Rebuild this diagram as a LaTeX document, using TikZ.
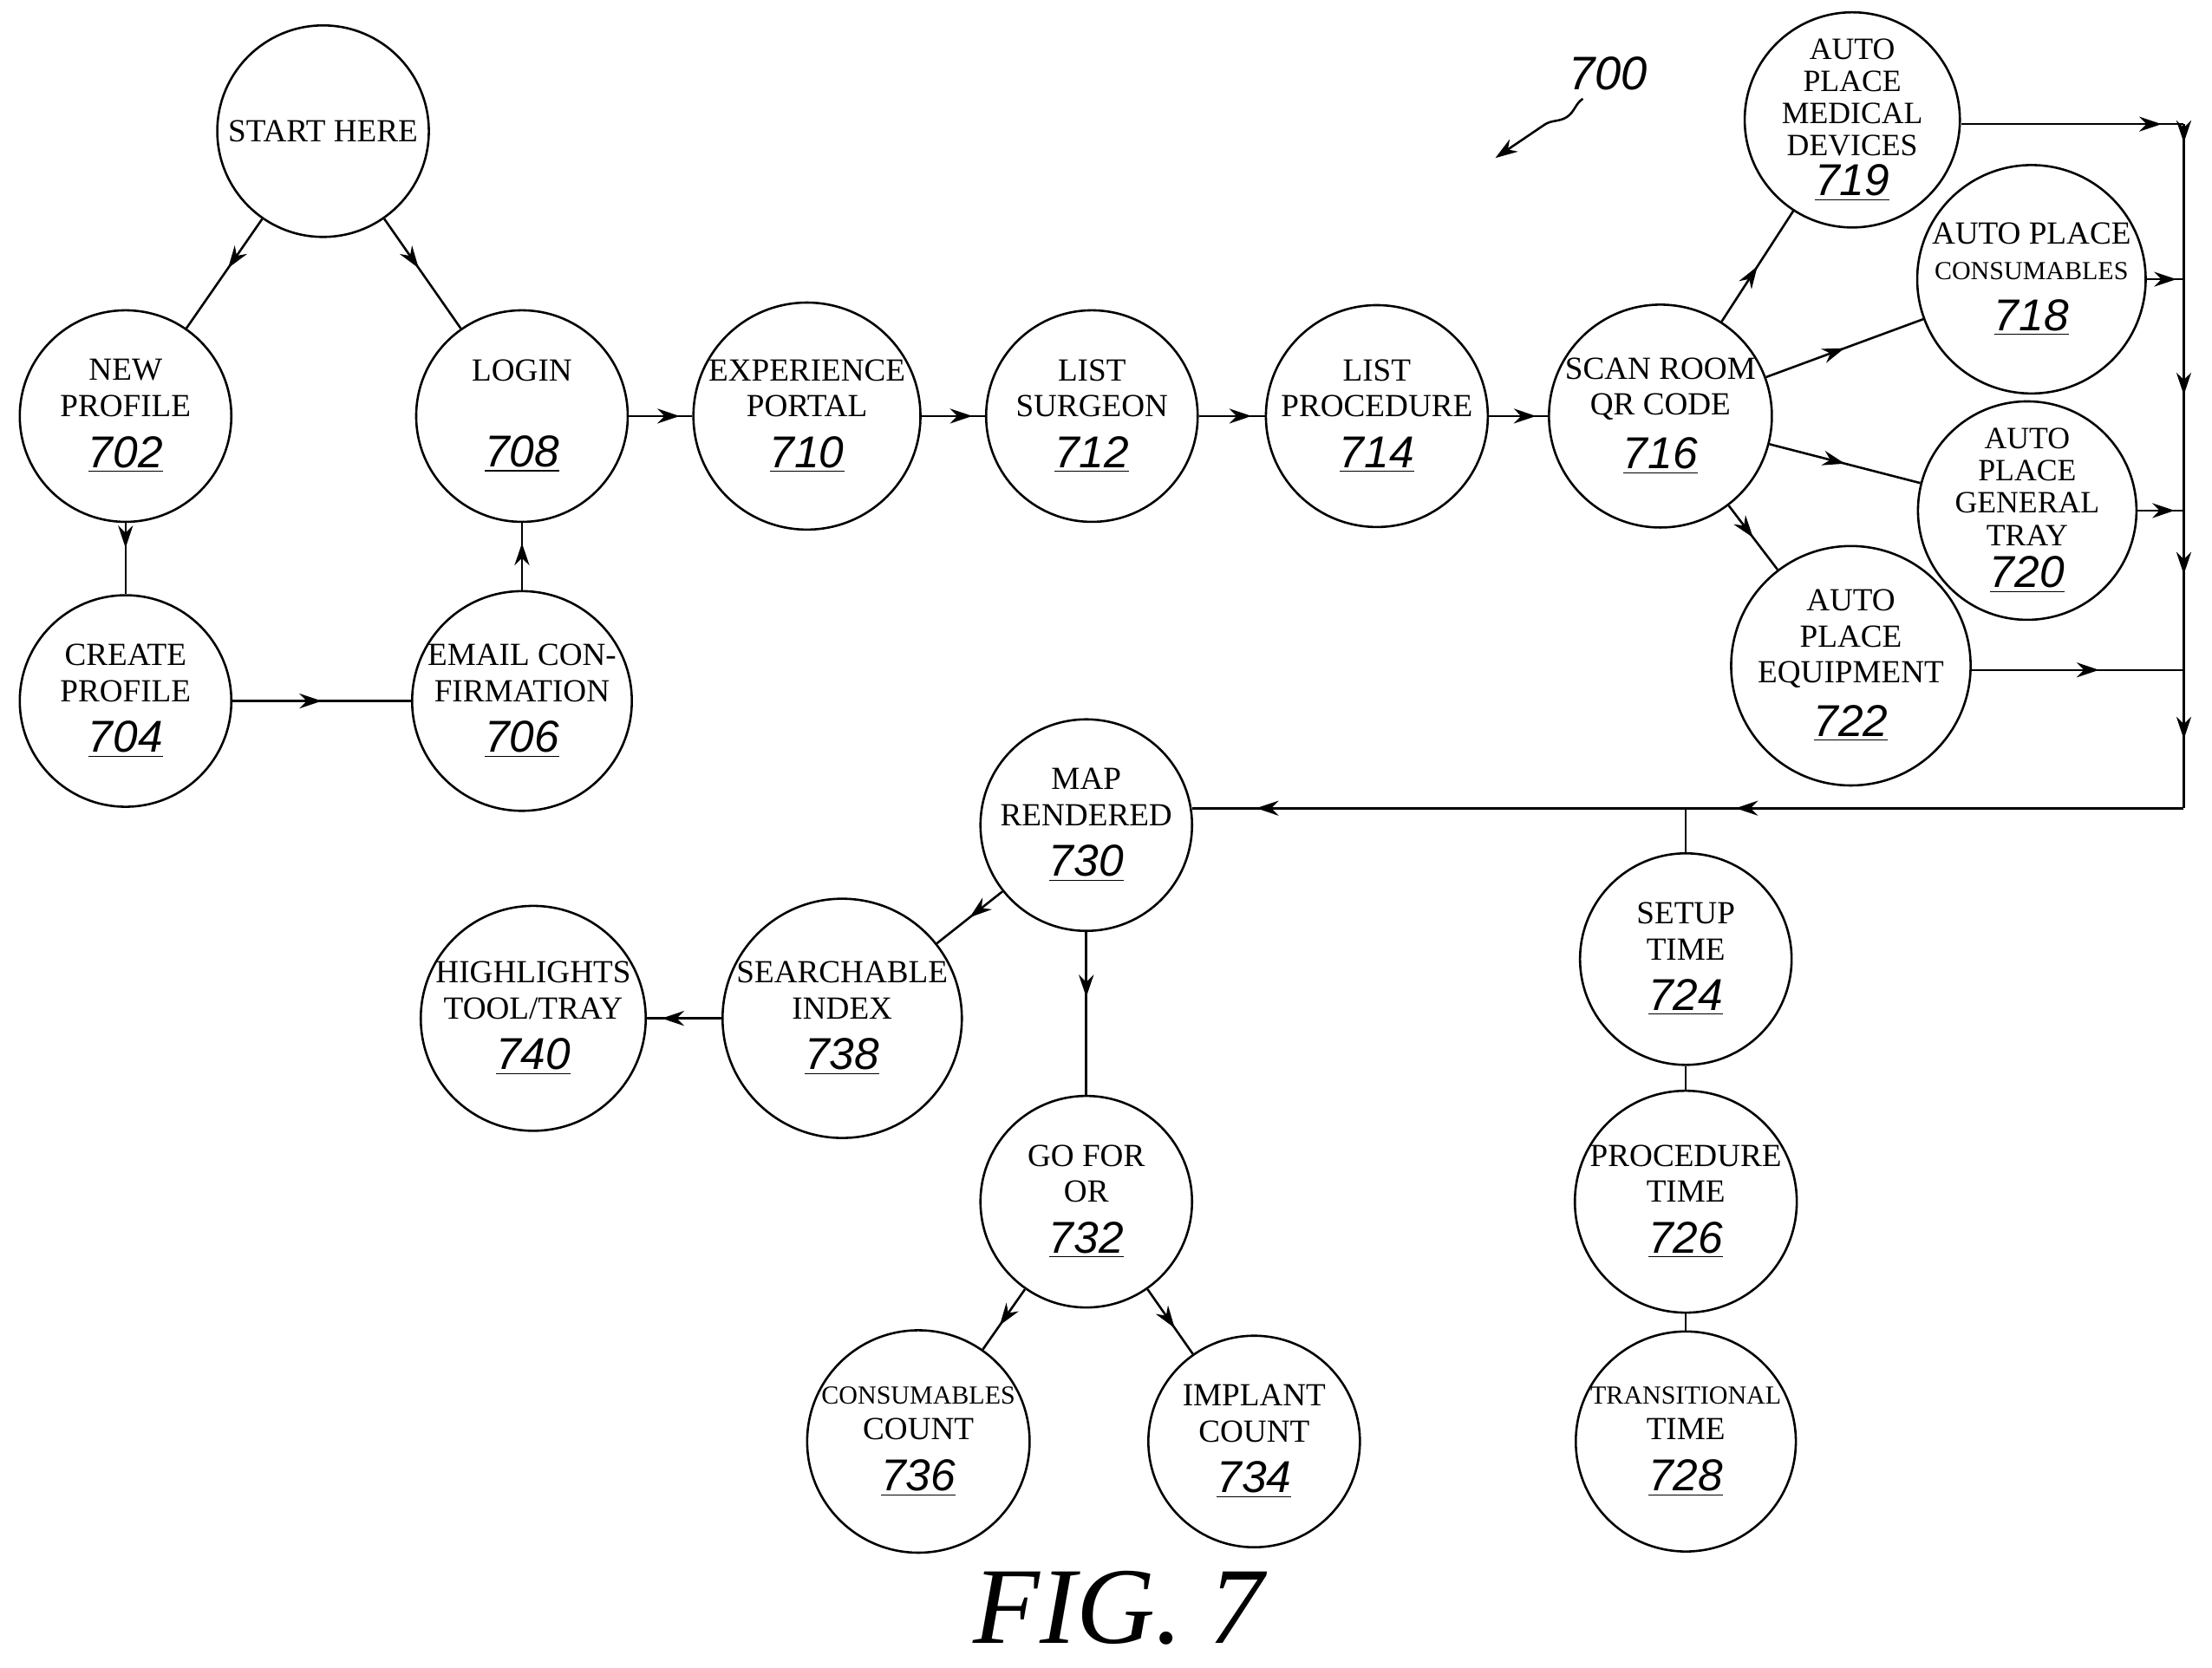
\documentclass[tikz,border=0pt]{standalone}
\usepackage{fontspec}
\setmainfont{Liberation Serif}
\newfontfamily\numfont{Liberation Sans}
\usetikzlibrary{arrows.meta,decorations.markings,decorations.pathmorphing}
\newcommand{\rn}[1]{{\fontsize{18}{18}\numfont\itshape\underline{#1}}}
\begin{document}
\begin{tikzpicture}[x=0.02cm,y=-0.02cm,
  st/.style={circle,draw,line width=0.9pt,minimum size=3.0cm,inner sep=0pt,align=center,font=\fontsize{13}{14.5}\selectfont},
  tight/.style={font=\fontsize{12.5}{13}\selectfont},
  ln/.style={line width=0.9pt},
  ma/.style={ln,postaction={decorate},decoration={markings,mark=at position #1 with {\arrow{Stealth[length=9pt,width=6pt]}}}},
  ma/.default=0.5]
\useasboundingbox (0,0) rectangle (1568,1182);
\node[st] (s) at (229,93) {START HERE};
\node[st] (n702) at (89,295) {NEW\\PROFILE\\[6pt]\rn{702}};
\node[st] (n708) at (370,295) {LOGIN\\[20pt]\rn{708}};
\node[st] (n704) at (89,497) {CREATE\\PROFILE\\[6pt]\rn{704}};
\node[st] (n706) at (370,497) {EMAIL CON-\\FIRMATION\\[6pt]\rn{706}};
\node[st] (n710) at (572,295) {EXPERIENCE\\PORTAL\\[6pt]\rn{710}};
\node[st] (n712) at (774,295) {LIST\\SURGEON\\[6pt]\rn{712}};
\node[st] (n714) at (976,295) {LIST\\PROCEDURE\\[6pt]\rn{714}};
\node[st] (n716) at (1177,295) {SCAN ROOM\\QR CODE\\[6pt]\rn{716}};
\node[st,tight] (n719) at (1313,85) {AUTO\\PLACE\\MEDICAL\\DEVICES\\[3pt]\rn{719}};
\node[st] (n718) at (1440,198) {AUTO PLACE\\{\fontsize{10.5}{12}\selectfont CONSUMABLES}\\[6pt]\rn{718}};
\node[st,tight] (n720) at (1437,362) {AUTO\\PLACE\\GENERAL\\TRAY\\[4pt]\rn{720}};
\node[st] (n722) at (1312,472) {AUTO\\PLACE\\EQUIPMENT\\[6pt]\rn{722}};
\node[st] (n730) at (770,585) {MAP\\RENDERED\\[6pt]\rn{730}};
\node[st] (n738) at (597,722) {SEARCHABLE\\INDEX\\[6pt]\rn{738}};
\node[st] (n740) at (378,722) {HIGHLIGHTS\\TOOL/TRAY\\[6pt]\rn{740}};
\node[st] (n732) at (770,852) {GO FOR\\OR\\[6pt]\rn{732}};
\node[st] (n736) at (651,1022) {{\fontsize{10.5}{12}\selectfont CONSUMABLES}\\COUNT\\[6pt]\rn{736}};
\node[st] (n734) at (889,1022) {IMPLANT\\COUNT\\[6pt]\rn{734}};
\node[st] (n724) at (1195,680) {SETUP\\TIME\\[6pt]\rn{724}};
\node[st] (n726) at (1195,852) {PROCEDURE\\TIME\\[6pt]\rn{726}};
\node[st] (n728) at (1195,1022) {{\fontsize{10.5}{12}\selectfont TRANSITIONAL}\\TIME\\[6pt]\rn{728}};
\node[font=\fontsize{44}{44}\selectfont\itshape] (fig) at (793,1140) {FIG. 7};
\node[font=\fontsize{19}{19}\numfont\itshape] (l700) at (1140,52) {700};
\coordinate (t700) at (1060,112);
\draw[ln,-{Stealth[length=9pt,width=6pt]},decorate,decoration={snake,amplitude=2.5pt,segment length=30pt,post length=12pt}] (1122,70) -- (t700);
\coordinate (b1) at (1548,88);
\coordinate (b2) at (1548,198);
\coordinate (b3) at (1548,362);
\coordinate (b4) at (1548,475);
\coordinate (b5) at (1548,573);
\coordinate (b6) at (1195,573);
\coordinate (b7) at (845,573);
\draw[ma=0.45] (s) -- (n702);
\draw[ma=0.45] (s) -- (n708);
\draw[ma=0.35] (n702) -- (n704);
\draw[ma=0.5] (n704) -- (n706);
\draw[ma=0.7] (n706) -- (n708);
\draw[ma=0.8] (n708) -- (n710);
\draw[ma=0.8] (n710) -- (n712);
\draw[ma=0.8] (n712) -- (n714);
\draw[ma=0.8] (n714) -- (n716);
\draw[ma=0.5] (n716) -- (n719);
\draw[ma=0.5] (n716) -- (n718);
\draw[ma=0.5] (n716) -- (n720);
\draw[ma=0.5] (n716) -- (n722);
\draw[ma=0.9] (n719.east |- b1) -- (b1);
\draw[ma=0.8] (n718) -- (b2);
\draw[ma=0.8] (n720) -- (b3);
\draw[ma=0.6] (n722.east |- b4) -- (b4);
\draw[ma=0.12] (b1) -- (b2);
\draw[ma=0.5] (b2) -- (b3);
\draw[ma=0.4] (b3) -- (b4);
\draw[ma=0.5] (b4) -- (b5);
\draw[ma=0.9] (b5) -- (b6);
\draw[ma=0.87] (b6) -- (b7);
\draw[ln] (b6) -- (n724);
\draw[ln] (n724) -- (n726);
\draw[ln] (n726) -- (n728);
\draw[ma=0.5] (n730) -- (n738);
\draw[ma=0.8] (n738) -- (n740);
\draw[ma=0.4] (n730) -- (n732);
\draw[ma=0.6] (n732) -- (n736);
\draw[ma=0.6] (n732) -- (n734);
\end{tikzpicture}
\end{document}
